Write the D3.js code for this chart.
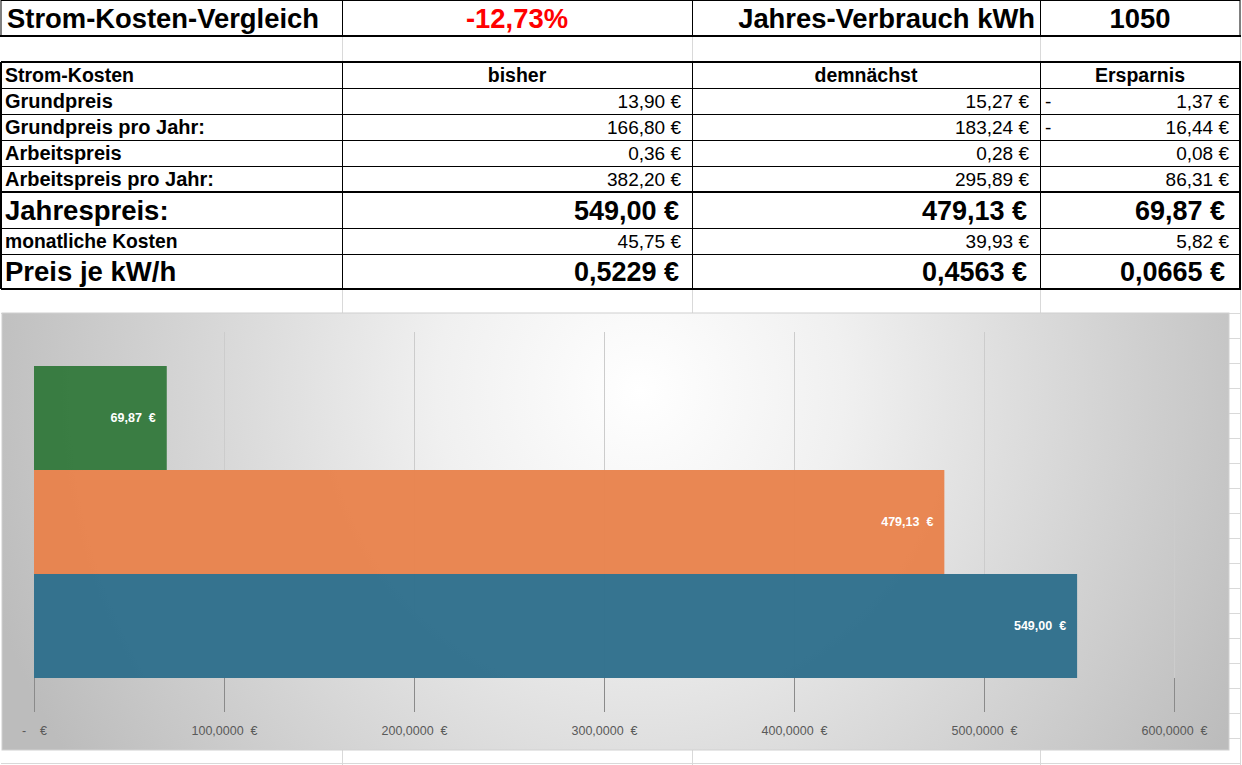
<!DOCTYPE html>
<html>
<head>
<meta charset="utf-8">
<script src="https://cdn.jsdelivr.net/npm/d3@7"></script>
<style>
  body { margin: 0; background: #fff; }
  svg { display: block; font-family: 'Liberation Sans', Arial, sans-serif; }
</style>
</head>
<body>
<div id="chart"></div>
<script>
// --- sheet header ---
const headerTitle = 'Strom-Kosten-Vergleich';
const changePct = '-12,73%';
const usageLabel = 'Jahres-Verbrauch kWh';
const usageKwh = '1050';

// --- cost table ---
const columnHeads = ['Strom-Kosten', 'bisher', 'demnächst', 'Ersparnis'];
const rowLabels = ['Grundpreis', 'Grundpreis pro Jahr:', 'Arbeitspreis', 'Arbeitspreis pro Jahr:',
  'Jahrespreis:', 'monatliche Kosten', 'Preis je kW/h'];
const bisherCol = ['13,90 €', '166,80 €', '0,36 €', '382,20 €', '549,00 €', '45,75 €', '0,5229 €'];
const demnaechstCol = ['15,27 €', '183,24 €', '0,28 €', '295,89 €', '479,13 €', '39,93 €', '0,4563 €'];
const ersparnisCol = ['1,37 €', '16,44 €', '0,08 €', '86,31 €', '69,87 €', '5,82 €', '0,0665 €'];
const ersparnisMinus = [true, true, false, false, false, false, false];
const rowBig = [false, false, false, false, true, false, true];

// --- bar chart ---
const seriesNames = ['Ersparnis', 'demnächst', 'bisher'];
const seriesValues = [69.87, 479.13, 549.00];
const seriesLabels = ['69,87 €', '479,13 €', '549,00 €'];
const xTickValues = [0, 100, 200, 300, 400, 500, 600];

const SERIES_COLORS = { 'Ersparnis': '#357a3e', 'demnächst': '#e8834d', 'bisher': '#2f6f8c' };

const W = 1242, H = 765;
const COLS = [1, 342, 692, 1040, 1240];
const TABLE_TOP = 62;
const ROW_H_SMALL = 26, ROW_H_BIG = 36;
const CHART_BOX = { x: 2, y: 313, w: 1227, h: 437 };
const PLOT = { left: 34, right: 1174, top: 332, bottom: 712 };
const GRID_FAINT = '#d9d9d9';

const svg = d3.select('#chart').append('svg')
  .attr('width', W).attr('height', H);

svg.append('rect').attr('width', W).attr('height', H).attr('fill', '#fff');

// faint spreadsheet cell lines in the empty areas
const faint = svg.append('g').attr('stroke', GRID_FAINT).attr('stroke-width', 1);
[342, 692, 1040].forEach(x => {
  faint.append('line').attr('x1', x + 0.5).attr('x2', x + 0.5).attr('y1', 36).attr('y2', 62);
  faint.append('line').attr('x1', x + 0.5).attr('x2', x + 0.5).attr('y1', 288).attr('y2', 313);
  faint.append('line').attr('x1', x + 0.5).attr('x2', x + 0.5).attr('y1', 750).attr('y2', H);
});
faint.append('line').attr('x1', 1240.5).attr('x2', 1240.5).attr('y1', 36).attr('y2', H);
faint.append('line').attr('x1', 1).attr('x2', 1240).attr('y1', 313.5).attr('y2', 313.5);
d3.range(338, H, 25).forEach(y => {
  faint.append('line').attr('x1', 1229).attr('x2', 1241).attr('y1', y + 0.5).attr('y2', y + 0.5);
});
faint.append('line').attr('x1', 1).attr('x2', 1241).attr('y1', 763.5).attr('y2', 763.5);

// --- top row ---
const headRow = svg.append('g');
headRow.append('rect').attr('x', 1).attr('y', 0.5).attr('width', 1239).attr('height', 35)
  .attr('fill', 'none').attr('stroke', '#000').attr('stroke-width', 1);
headRow.append('line').attr('x1', 0).attr('x2', 1241).attr('y1', 36).attr('y2', 36)
  .attr('stroke', '#000').attr('stroke-width', 2);
[342, 692, 1040].forEach(x => {
  headRow.append('line').attr('x1', x + 0.5).attr('x2', x + 0.5).attr('y1', 0).attr('y2', 36)
    .attr('stroke', '#000');
});
const bigTxt = (g, x, text, anchor, color) => g.append('text')
  .attr('x', x).attr('y', 28).attr('text-anchor', anchor)
  .style('font-size', '27.4px').style('font-weight', 'bold').attr('fill', color || '#000')
  .text(text);
bigTxt(headRow, 7, headerTitle, 'start');
bigTxt(headRow, 517, changePct, 'middle', '#ff0000');
bigTxt(headRow, 1035, usageLabel, 'end');
bigTxt(headRow, 1140, usageKwh, 'middle');

// --- cost table ---
const table = svg.append('g');
let rowTops = [TABLE_TOP, TABLE_TOP + ROW_H_SMALL];
rowBig.forEach(b => rowTops.push(rowTops[rowTops.length - 1] + (b ? ROW_H_BIG : ROW_H_SMALL)));
rowTops[rowTops.length - 1] -= 1;
const tableBottom = rowTops[rowTops.length - 1];

// header
table.append('text').attr('x', 5).attr('y', TABLE_TOP + 20)
  .style('font-size', '19.5px').style('font-weight', 'bold').text(columnHeads[0]);
[1, 2, 3].forEach(i => {
  table.append('text').attr('x', (COLS[i] + COLS[i + 1]) / 2).attr('y', TABLE_TOP + 20)
    .attr('text-anchor', 'middle')
    .style('font-size', '19.5px').style('font-weight', 'bold').text(columnHeads[i]);
});

rowLabels.forEach((lab, i) => {
  const y1 = rowTops[i + 2];
  const big = rowBig[i];
  const base = big ? y1 - 8 : y1 - 6;
  const labelSize = big ? '27.5px' : (i === 5 ? '19.3px' : '20px');
  const valSize = big ? '27px' : '19px';
  const valWeight = big ? 'bold' : 'normal';
  const pad = big ? 13 : 11;
  table.append('text').attr('x', 5).attr('y', base)
    .style('font-size', labelSize).style('font-weight', 'bold').text(lab);
  [[bisherCol, 2], [demnaechstCol, 3], [ersparnisCol, 4]].forEach(([col, ci]) => {
    table.append('text').attr('x', COLS[ci] - pad - (ci === 4 && big ? 2 : 0))
      .attr('y', base).attr('text-anchor', 'end')
      .style('font-size', valSize).style('font-weight', valWeight).text(col[i]);
  });
  if (ersparnisMinus[i]) {
    table.append('text').attr('x', COLS[3] + 5).attr('y', base)
      .style('font-size', valSize).text('-');
  }
});

// table lines
const lines = table.append('g').attr('stroke', '#000');
rowTops.forEach((y, i) => {
  const thick = i === 0 || i === 5 || i === rowTops.length - 1;
  lines.append('line').attr('x1', 1).attr('x2', 1241)
    .attr('y1', thick ? y : y + 0.5).attr('y2', thick ? y : y + 0.5)
    .attr('stroke-width', thick ? 2 : 1);
});
COLS.forEach((x, i) => {
  const edge = i === 0 || i === COLS.length - 1;
  lines.append('line').attr('x1', edge ? x : x + 0.5).attr('x2', edge ? x : x + 0.5)
    .attr('y1', TABLE_TOP).attr('y2', tableBottom)
    .attr('stroke-width', edge ? 2 : 1);
});

// --- chart ---
const defs = svg.append('defs');
const grad = defs.append('radialGradient').attr('id', 'bg')
  .attr('gradientUnits', 'userSpaceOnUse')
  .attr('cx', 640).attr('cy', 390).attr('r', 680);
grad.append('stop').attr('offset', '0').attr('stop-color', '#ffffff');
grad.append('stop').attr('offset', '0.3').attr('stop-color', '#f0f0f0');
grad.append('stop').attr('offset', '1').attr('stop-color', '#bcbcbc');

const chart = svg.append('g');
chart.append('rect')
  .attr('x', CHART_BOX.x).attr('y', CHART_BOX.y)
  .attr('width', CHART_BOX.w).attr('height', CHART_BOX.h)
  .attr('fill', 'url(#bg)').attr('stroke', '#d0d0d0');

const x = d3.scaleLinear().domain([0, 600]).range([PLOT.left, PLOT.right]);
const y = d3.scaleBand().domain(seriesNames).range([PLOT.top, PLOT.bottom])
  .paddingInner(0).paddingOuter(0.327);
const barsBottom = y(seriesNames[seriesNames.length - 1]) + y.bandwidth();

const de = d3.formatLocale({ decimal: ',', thousands: '.', grouping: [3], currency: ['', ' €'] });
const fmt = de.format(',.4f');
const tickFormat = d => d === 0 ? '-    €' : fmt(d) + '  €';

// light major gridlines (not at zero)
const grid = chart.append('g')
  .attr('transform', `translate(0,${PLOT.bottom})`)
  .call(d3.axisBottom(x).tickValues(xTickValues.filter(v => v > 0))
    .tickSize(-(PLOT.bottom - PLOT.top)).tickFormat(''));
grid.select('.domain').remove();
grid.selectAll('.tick line').attr('stroke', '#cccccc').attr('stroke-width', 1);

// tick marks below the bars + labels
const axis = chart.append('g')
  .attr('transform', `translate(0,${PLOT.bottom})`)
  .call(d3.axisBottom(x).tickValues(xTickValues).tickSize(-(PLOT.bottom - barsBottom))
    .tickPadding(14).tickFormat(tickFormat));
axis.select('.domain').remove();
axis.selectAll('.tick line').attr('stroke', '#8a8a8a').attr('stroke-width', 1);
axis.selectAll('.tick text')
  .attr('fill', '#595959')
  .style('font-size', '12.5px')
  .style('font-family', "'Liberation Sans', Arial, sans-serif")
  .style('white-space', 'pre')
  .attr('xml:space', 'preserve');

// bars
chart.selectAll('.bar')
  .data(seriesNames)
  .join('rect')
  .attr('class', 'bar')
  .attr('x', x(0))
  .attr('y', d => y(d))
  .attr('width', (d, i) => x(seriesValues[i]) - x(0))
  .attr('height', y.bandwidth())
  .attr('fill', d => SERIES_COLORS[d])
  .attr('fill-opacity', 0.97);

chart.selectAll('.bar-label')
  .data(seriesNames)
  .join('text')
  .attr('class', 'bar-label')
  .attr('x', (d, i) => x(seriesValues[i]) - 11)
  .attr('y', d => y(d) + y.bandwidth() / 2)
  .attr('dy', '0.35em')
  .attr('text-anchor', 'end')
  .attr('fill', '#fff')
  .style('font-size', '12.5px')
  .style('font-weight', 'bold')
  .style('white-space', 'pre')
  .text((d, i) => seriesLabels[i].replace(' ', '  '));
</script>
</body>
</html>
